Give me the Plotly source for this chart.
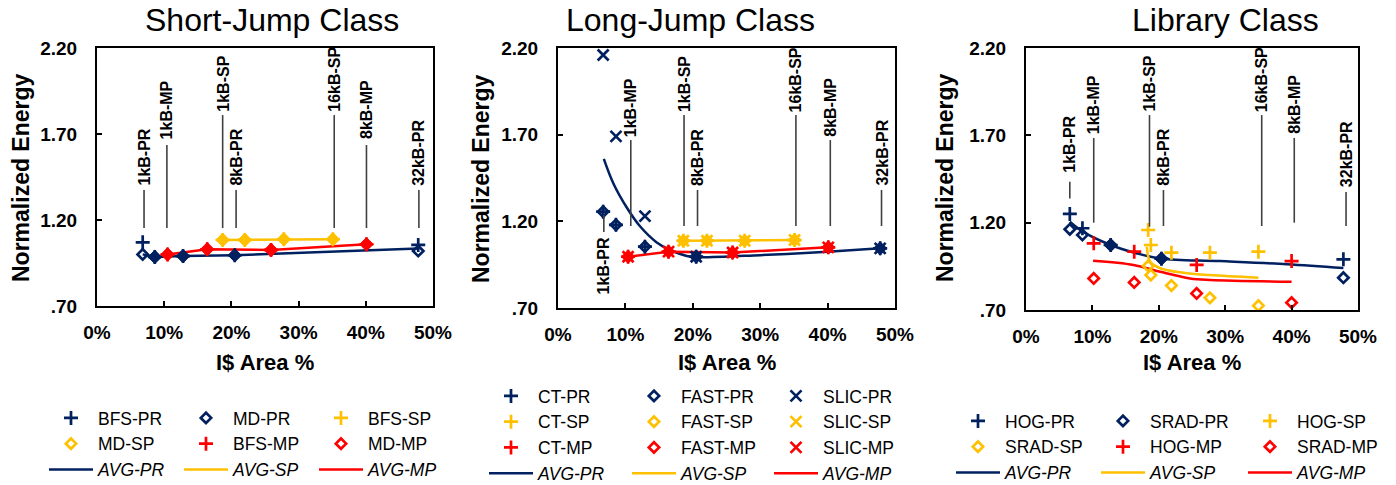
import plotly.graph_objects as go

# ---------------- data ----------------
TITLES = ["Short-Jump Class", "Long-Jump Class", "Library Class"]
X_TITLE = "I$ Area %"
Y_TITLE = "Normalized Energy"
X_TICKS = [0, 10, 20, 30, 40, 50]
X_TICK_TEXT = ["0%", "10%", "20%", "30%", "40%", "50%"]
Y_TICKS = [0.70, 1.20, 1.70, 2.20]
Y_TICK_TEXT = [".70", "1.20", "1.70", "2.20"]
LABELS = ["1kB-PR", "1kB-MP", "1kB-SP", "8kB-PR", "16kB-SP", "8kB-MP", "32kB-PR"]

# Short-Jump class
SJ_PR_X = [6.8, 8.6, 12.8, 20.5, 47.8]
SJ_BFS_PR = [1.07, 0.985, 0.99, 0.995, 1.055]
SJ_MD_PR = [1.00, 0.985, 0.99, 0.995, 1.02]
SJ_AVG_PR = [1.00, 0.985, 0.99, 0.995, 1.035]
SJ_SP_X = [18.7, 22.0, 27.8, 35.1]
SJ_BFS_SP = [1.084, 1.084, 1.088, 1.088]
SJ_MD_SP = [1.084, 1.084, 1.088, 1.088]
SJ_AVG_SP = [1.084, 1.084, 1.088, 1.088]
SJ_MP_X = [10.5, 16.4, 25.9, 40.1]
SJ_BFS_MP = [1.00, 1.03, 1.026, 1.059]
SJ_MD_MP = [1.00, 1.03, 1.026, 1.059]
SJ_AVG_MP = [1.00, 1.03, 1.026, 1.059]
SJ_LBL_X = [7.0, 10.4, 18.7, 20.7, 35.3, 40.1, 47.9]
SJ_LBL_LO = [1.153, 1.153, 1.153, 1.153, 1.153, 1.153, 1.153]
SJ_LBL_HI = [1.374, 1.636, 1.810, 1.374, 1.810, 1.636, 1.374]
SJ_LBL_TXT = [1.392, 1.665, 1.822, 1.392, 1.822, 1.665, 1.392]
SJ_LBL_POS = ["above"] * 7

# Long-Jump class
LJ_PR_X = [6.7, 8.6, 12.9, 20.5, 47.8]
LJ_CT_PR = [1.256, 1.18, 1.054, 0.996, 1.044]
LJ_FAST_PR = [1.256, 1.18, 1.054, 0.996, 1.044]
LJ_SLIC_PR = [2.16, 1.69, 1.23, 0.996, 1.044]
LJ_AVG_PR_X = [6.8, 8.2, 10.2, 12.2, 14.6, 16.6, 19.1, 20.5, 30.0, 40.0, 47.8]
LJ_AVG_PR = [1.56, 1.42, 1.28, 1.17, 1.08, 1.035, 1.0, 0.993, 1.005, 1.025, 1.044]
LJ_SP_X = [18.6, 22.1, 27.7, 35.1]
LJ_CT_SP = [1.088, 1.088, 1.088, 1.092]
LJ_FAST_SP = [1.088, 1.088, 1.088, 1.092]
LJ_SLIC_SP = [1.088, 1.088, 1.088, 1.092]
LJ_AVG_SP = [1.088, 1.088, 1.088, 1.092]
LJ_MP_X = [10.4, 16.4, 25.9, 40.1]
LJ_CT_MP = [0.996, 1.025, 1.02, 1.05]
LJ_FAST_MP = [0.996, 1.025, 1.02, 1.05]
LJ_SLIC_MP = [0.996, 1.025, 1.02, 1.05]
LJ_AVG_MP = [0.996, 1.025, 1.02, 1.05]
LJ_LBL_X = [6.8, 10.8, 18.7, 20.7, 35.3, 40.4, 48.0]
LJ_LBL_LO = [1.139, 1.173, 1.173, 1.173, 1.173, 1.173, 1.173]
LJ_LBL_HI = [1.237, 1.669, 1.814, 1.381, 1.814, 1.669, 1.381]
LJ_LBL_TXT = [1.115, 1.681, 1.825, 1.398, 1.825, 1.681, 1.398]
LJ_LBL_POS = ["below"] + ["above"] * 6

# Library class
LB_PR_X = [6.6, 8.5, 12.75, 20.4, 47.8]
LB_HOG_PR = [1.25, 1.168, 1.072, 0.994, 0.99]
LB_SRAD_PR = [1.162, 1.13, 1.072, 0.994, 0.885]
LB_AVG_PR_X = [6.6, 8.5, 12.75, 16.6, 20.4, 29.2, 39.3, 47.8]
LB_AVG_PR = [1.205, 1.15, 1.072, 1.025, 0.994, 0.98, 0.962, 0.94]
LB_SP_X = [18.4, 18.8, 21.9, 27.7, 35.0]
LB_HOG_SP = [1.158, 1.072, 1.028, 1.028, 1.034]
LB_SRAD_SP = [0.952, 0.90, 0.84, 0.77, 0.725]
LB_AVG_SP_X = [18.2, 18.7, 20.2, 23.7, 27.7, 35.0]
LB_AVG_SP = [1.062, 0.976, 0.939, 0.913, 0.90, 0.885]
LB_MP_X = [10.2, 16.3, 25.7, 40.0]
LB_HOG_MP = [1.082, 1.034, 0.958, 0.98]
LB_SRAD_MP = [0.881, 0.858, 0.795, 0.742]
LB_AVG_MP_X = [10.1, 16.2, 20.2, 24.7, 27.7, 40.0]
LB_AVG_MP = [0.982, 0.958, 0.919, 0.881, 0.872, 0.862]
LB_LBL_X = [6.6, 10.2, 18.6, 20.7, 35.5, 40.4, 48.2]
LB_LBL_LO = [1.339, 1.20, 1.177, 1.181, 1.181, 1.20, 1.181]
LB_LBL_HI = [1.434, 1.685, 1.816, 1.387, 1.816, 1.685, 1.375]
LB_LBL_TXT = [1.482, 1.702, 1.828, 1.406, 1.828, 1.702, 1.398]
LB_LBL_POS = ["above"] * 7

# ---------------- style ----------------
NAVY = "#002060"
GOLD = "#FFC000"
RED = "#FF0000"
FONT = "Arial, 'Liberation Sans', sans-serif"
W, H = 1396, 485

PLOTS = [  # pixel boxes on the page: left, right, top, bottom
    (97, 433, 48, 306),
    (558, 895, 48, 308),
    (1026, 1358, 48, 310),
]
TITLE_CX = [272, 690, 1225]
YTITLE_CX = [21, 481, 945]

fig = go.Figure()


def px2x(p):
    return p / W


def px2y(p):
    return 1 - p / H


def ax_names(i):
    return ("x" if i == 0 else f"x{i+1}", "y" if i == 0 else f"y{i+1}")


def add_line(i, xs, ys, color, name, legend, rank, shape="linear"):
    xa, ya = ax_names(i)
    fig.add_trace(go.Scatter(x=xs, y=ys, mode="lines", name=f"<i>{name}</i>",
                             line=dict(color=color, width=2.5, shape=shape, smoothing=1.0),
                             xaxis=xa, yaxis=ya, legend=legend, legendrank=rank,
                             hoverinfo="skip"))


SIZES = {"cross-thin": 10, "diamond-open": 8, "x-thin": 11}


def add_markers(i, xs, ys, color, name, symbol, legend, rank):
    xa, ya = ax_names(i)
    fig.add_trace(go.Scatter(x=xs, y=ys, mode="markers", name=name,
                             marker=dict(symbol=symbol, size=SIZES[symbol], color=color,
                                         line=dict(color=color, width=2.7)),
                             xaxis=xa, yaxis=ya, legend=legend, legendrank=rank))


def add_nodes(i, xs, a, b, color):
    xa, ya = ax_names(i)
    nx = [x for x, u, v in zip(xs, a, b) if u == v]
    ny = [u for x, u, v in zip(xs, a, b) if u == v]
    fig.add_trace(go.Scatter(x=nx, y=ny, mode="markers", showlegend=False,
                             marker=dict(symbol="diamond", size=10, color=color,
                                         line=dict(color=color, width=1)),
                             xaxis=xa, yaxis=ya))


PLUS, DIAM, CROSS = "cross-thin", "diamond-open", "x-thin"

# ---- panel 1: Short-Jump ----
add_line(0, SJ_PR_X, SJ_AVG_PR, NAVY, "AVG-PR", "legend", 3)
add_line(0, SJ_SP_X, SJ_AVG_SP, GOLD, "AVG-SP", "legend2", 3)
add_line(0, SJ_MP_X, SJ_AVG_MP, RED, "AVG-MP", "legend3", 3)
add_markers(0, SJ_PR_X, SJ_BFS_PR, NAVY, "BFS-PR", PLUS, "legend", 1)
add_markers(0, SJ_PR_X, SJ_MD_PR, NAVY, "MD-PR", DIAM, "legend2", 1)
add_markers(0, SJ_SP_X, SJ_BFS_SP, GOLD, "BFS-SP", PLUS, "legend3", 1)
add_markers(0, SJ_SP_X, SJ_MD_SP, GOLD, "MD-SP", DIAM, "legend", 2)
add_markers(0, SJ_MP_X, SJ_BFS_MP, RED, "BFS-MP", PLUS, "legend2", 2)
add_markers(0, SJ_MP_X, SJ_MD_MP, RED, "MD-MP", DIAM, "legend3", 2)
add_nodes(0, SJ_PR_X, SJ_BFS_PR, SJ_MD_PR, NAVY)
add_nodes(0, SJ_SP_X, SJ_BFS_SP, SJ_MD_SP, GOLD)
add_nodes(0, SJ_MP_X, SJ_BFS_MP, SJ_MD_MP, RED)

# ---- panel 2: Long-Jump ----
add_line(1, LJ_AVG_PR_X, LJ_AVG_PR, NAVY, "AVG-PR", "legend4", 4, shape="spline")
add_line(1, LJ_SP_X, LJ_AVG_SP, GOLD, "AVG-SP", "legend5", 4)
add_line(1, LJ_MP_X, LJ_AVG_MP, RED, "AVG-MP", "legend6", 4)
add_markers(1, LJ_PR_X, LJ_CT_PR, NAVY, "CT-PR", PLUS, "legend4", 1)
add_markers(1, LJ_SP_X, LJ_CT_SP, GOLD, "CT-SP", PLUS, "legend4", 2)
add_markers(1, LJ_MP_X, LJ_CT_MP, RED, "CT-MP", PLUS, "legend4", 3)
add_markers(1, LJ_PR_X, LJ_FAST_PR, NAVY, "FAST-PR", DIAM, "legend5", 1)
add_markers(1, LJ_SP_X, LJ_FAST_SP, GOLD, "FAST-SP", DIAM, "legend5", 2)
add_markers(1, LJ_MP_X, LJ_FAST_MP, RED, "FAST-MP", DIAM, "legend5", 3)
add_markers(1, LJ_PR_X, LJ_SLIC_PR, NAVY, "SLIC-PR", CROSS, "legend6", 1)
add_markers(1, LJ_SP_X, LJ_SLIC_SP, GOLD, "SLIC-SP", CROSS, "legend6", 2)
add_markers(1, LJ_MP_X, LJ_SLIC_MP, RED, "SLIC-MP", CROSS, "legend6", 3)

# ---- panel 3: Library ----
add_line(2, LB_AVG_PR_X, LB_AVG_PR, NAVY, "AVG-PR", "legend7", 3, shape="spline")
add_line(2, LB_AVG_SP_X, LB_AVG_SP, GOLD, "AVG-SP", "legend8", 3, shape="spline")
add_line(2, LB_AVG_MP_X, LB_AVG_MP, RED, "AVG-MP", "legend9", 3, shape="spline")
add_markers(2, LB_PR_X, LB_HOG_PR, NAVY, "HOG-PR", PLUS, "legend7", 1)
add_markers(2, LB_PR_X, LB_SRAD_PR, NAVY, "SRAD-PR", DIAM, "legend8", 1)
add_markers(2, LB_SP_X, LB_HOG_SP, GOLD, "HOG-SP", PLUS, "legend9", 1)
add_markers(2, LB_SP_X, LB_SRAD_SP, GOLD, "SRAD-SP", DIAM, "legend7", 2)
add_markers(2, LB_MP_X, LB_HOG_MP, RED, "HOG-MP", PLUS, "legend8", 2)
add_markers(2, LB_MP_X, LB_SRAD_MP, RED, "SRAD-MP", DIAM, "legend9", 2)
add_nodes(2, LB_PR_X, LB_HOG_PR, LB_SRAD_PR, NAVY)

# ---------------- axes ----------------
layout = dict(width=W, height=H, margin=dict(l=0, r=0, t=0, b=0, autoexpand=False),
              paper_bgcolor="white", plot_bgcolor="white",
              font=dict(family=FONT, color="black"))
annotations = []
shapes = []
for i, (l, r, t, b) in enumerate(PLOTS):
    xa, ya = ax_names(i)
    xkey = "xaxis" if i == 0 else f"xaxis{i+1}"
    ykey = "yaxis" if i == 0 else f"yaxis{i+1}"
    layout[xkey] = dict(domain=[px2x(l), px2x(r)], anchor=ya, range=[0, 50],
                        tickvals=X_TICKS, ticktext=X_TICK_TEXT, ticks="inside",
                        ticklen=5, tickwidth=1.5, tickcolor="black",
                        showline=True, linecolor="black", linewidth=2, mirror=True,
                        showgrid=False, zeroline=False, automargin=False,
                        ticklabelstandoff=8,
                        tickfont=dict(size=19, family=FONT, weight="bold", color="black"))
    layout[ykey] = dict(domain=[px2y(b), px2y(t)], anchor=xa, range=[0.70, 2.20],
                        tickvals=Y_TICKS, ticktext=Y_TICK_TEXT, ticks="inside",
                        ticklen=5, tickwidth=1.5, tickcolor="black",
                        showline=True, linecolor="black", linewidth=2, mirror=True,
                        showgrid=False, zeroline=False, automargin=False,
                        ticklabelstandoff=14,
                        tickfont=dict(size=19, family=FONT, weight="bold", color="black"))
    annotations.append(dict(text=TITLES[i], xref="paper", yref="paper",
                            x=px2x(TITLE_CX[i]), y=px2y(20), xanchor="center", yanchor="middle",
                            showarrow=False, font=dict(size=32, family=FONT, color="black")))
    annotations.append(dict(text=X_TITLE, xref="paper", yref="paper",
                            x=px2x((l + r) / 2), y=px2y(362), xanchor="center", yanchor="middle",
                            showarrow=False,
                            font=dict(size=22, family=FONT, color="black", weight="bold")))
    annotations.append(dict(text=Y_TITLE, xref="paper", yref="paper", textangle=-90,
                            x=px2x(YTITLE_CX[i]), y=px2y(178), xanchor="center", yanchor="middle",
                            showarrow=False,
                            font=dict(size=23, family=FONT, color="black", weight="bold")))

LBL_SETS = [
    (SJ_LBL_X, SJ_LBL_LO, SJ_LBL_HI, SJ_LBL_TXT, SJ_LBL_POS),
    (LJ_LBL_X, LJ_LBL_LO, LJ_LBL_HI, LJ_LBL_TXT, LJ_LBL_POS),
    (LB_LBL_X, LB_LBL_LO, LB_LBL_HI, LB_LBL_TXT, LB_LBL_POS),
]
for i, (lx, lo, hi, ty, pos) in enumerate(LBL_SETS):
    xa, ya = ax_names(i)
    for k, name in enumerate(LABELS):
        shapes.append(dict(type="line", xref=xa, yref=ya, x0=lx[k], x1=lx[k],
                           y0=lo[k], y1=hi[k], line=dict(color="#404040", width=1.6)))
        annotations.append(dict(text=name, xref=xa, yref=ya, x=lx[k], y=ty[k],
                                textangle=-90, xanchor="center",
                                yanchor="bottom" if pos[k] == "above" else "top",
                                showarrow=False, borderpad=0,
                                font=dict(size=16, family=FONT, color="black", weight="bold")))

# legends: three columns per panel (top edge of each legend box on the page)
LEG_LEFT = [44, 179, 314, 484, 627, 769, 951, 1096, 1243]
LEG_TOP = [400, 400, 400, 378, 378, 378, 403, 403, 403]
for j in range(9):
    key = "legend" if j == 0 else f"legend{j+1}"
    layout[key] = dict(x=px2x(LEG_LEFT[j]), y=px2y(LEG_TOP[j]), xanchor="left", yanchor="top",
                       orientation="v", bgcolor="rgba(0,0,0,0)", borderwidth=0,
                       itemwidth=44, tracegroupgap=0,
                       font=dict(size=17.5, family=FONT, color="black"))

layout["annotations"] = annotations
layout["shapes"] = shapes
fig.update_layout(**layout)
fig.write_html("out.html", config={"displayModeBar": False},
               post_script="document.body.style.margin='0px';")
